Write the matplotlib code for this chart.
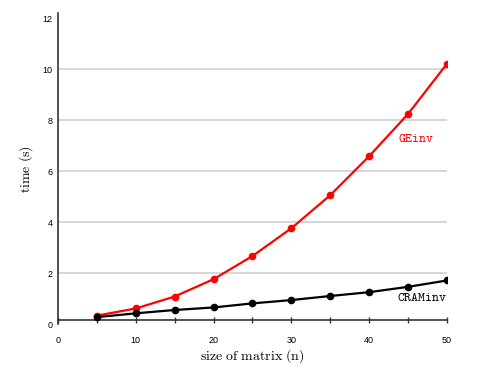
import matplotlib
matplotlib.use("Agg")
import matplotlib.pyplot as plt

n = [5, 10, 15, 20, 25, 30, 35, 40, 45, 50]
ge_inv = [0.33, 0.61, 1.08, 1.76, 2.67, 3.76, 5.06, 6.59, 8.25, 10.22]
cram_inv = [0.27, 0.42, 0.55, 0.65, 0.81, 0.94, 1.10, 1.25, 1.46, 1.71]
x_ticks = [0, 10, 20, 30, 40, 50]
x_minor = [5, 15, 25, 35, 45]
y_ticks = [0, 2, 4, 6, 8, 10, 12]

plt.rcParams['mathtext.fontset'] = 'cm'

fig = plt.figure(figsize=(4.91, 3.70), dpi=100)
ax = fig.add_axes([0.1181, 0.1243, 0.7923, 0.8397])
ax.set_xlim(0, 50)
ax.set_ylim(0, 12.2)

for y in y_ticks[1:-1]:
    ax.axhline(y, color='#d0d0d0', lw=1.2, zorder=0)

ax.plot(n, ge_inv, color='#ff0000', lw=1.6, marker='o', ms=4.5, zorder=3)
ax.plot(n, cram_inv, color='black', lw=1.6, marker='o', ms=4.5, zorder=4)

ax.text(43.7, 7.3, r'$\mathtt{GEinv}$', color='#ff0000', fontsize=9.5,
        ha='left', va='center')
ax.text(50, 1.03, r'$\mathtt{CRAMinv}$', color='black', fontsize=9.5,
        ha='right', va='center')

for s in ['top', 'right']:
    ax.spines[s].set_visible(False)
ax.spines['bottom'].set_position(('data', 0.17))
for s in ['left', 'bottom']:
    ax.spines[s].set_color('#333333')
    ax.spines[s].set_linewidth(1.2)

ax.set_xticks(x_ticks)
ax.set_xticks(x_minor, minor=True)
ax.set_yticks(y_ticks)
ax.tick_params(axis='x', which='both', direction='inout', length=5, width=1,
               color='#333333', labelsize=6.5, pad=9)
ax.tick_params(axis='y', length=0, labelsize=6.5, pad=4)
for lab in ax.get_xticklabels() + ax.get_yticklabels():
    lab.set_family('Liberation Sans')

ax.set_xlabel(r'$\mathrm{size\ of\ matrix\ (n)}$', fontsize=10, labelpad=2)
ax.set_ylabel(r'$\mathrm{time\ (s)}$', fontsize=10, labelpad=5)

fig.savefig('out.png', dpi=100)
